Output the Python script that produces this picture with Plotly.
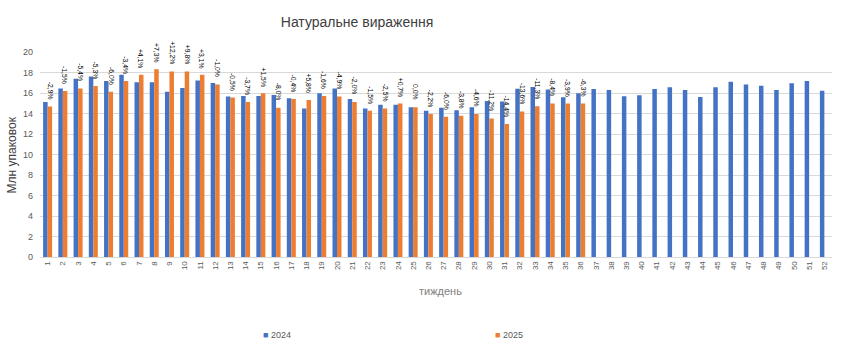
import plotly.graph_objects as go

weeks = [str(i) for i in range(1, 53)]

values_2024 = [15.13, 16.45, 17.39, 17.61, 17.16, 17.77, 17.06, 17.06, 16.13, 16.48,
               17.23, 16.97, 15.65, 15.71, 15.71, 15.81, 15.48, 14.48, 15.97, 16.45,
               15.42, 14.48, 14.85, 14.86, 14.61, 14.26, 14.55, 14.32, 14.61, 15.23,
               15.16, 16.42, 16.58, 16.35, 15.58, 15.97, 16.39, 16.29, 15.68, 15.77,
               16.39, 16.55, 16.29, 15.61, 16.55, 17.10, 16.84, 16.71, 16.29, 16.94,
               17.16, 16.23]

values_2025 = [14.68, 16.19, 16.45, 16.68, 16.13, 17.16, 17.77, 18.32, 18.10, 18.10,
               17.77, 16.84, 15.55, 15.13, 15.97, 14.55, 15.42, 15.32, 15.71, 15.65,
               15.13, 14.26, 14.48, 14.97, 14.61, 13.94, 13.68, 13.77, 13.94, 13.52,
               12.97, 14.19, 14.71, 14.97, 14.97, 14.97]

change_labels = ["-2,9%", "-1,5%", "-5,4%", "-5,3%", "-6,0%", "-3,4%", "+4,1%", "+7,3%",
                 "+12,2%", "+9,8%", "+3,1%", "-1,0%", "-0,5%", "-3,7%", "+1,5%", "-8,0%",
                 "-0,4%", "+5,8%", "-1,6%", "-4,9%", "-2,0%", "-1,5%", "-2,5%", "+0,7%",
                 "0,0%", "-2,2%", "-6,0%", "-3,8%", "-4,6%", "-11,2%", "-14,4%", "-13,6%",
                 "-11,3%", "-8,4%", "-3,9%", "-6,3%"]

series_names = ["2024", "2025"]
colors = ["#4472C4", "#ED7D31"]

FONT = "Liberation Sans"
LABEL_SIZE = 6.8
BARGAP = 0.41
PLOT_W = 850 - 40 - 18
CAT_PX = PLOT_W / len(weeks)
ORANGE_SHIFT = (1 - BARGAP) / 4 * CAT_PX  # centre of the second bar in a group
LABEL_GAP = 7  # px between bar top and the (rotated) label

# approximate advance widths (em) of Liberation Sans glyphs, to place rotated labels
_EM = {"+": 0.584, "-": 0.333, ",": 0.278, "%": 0.889}


def text_len(s, size):
    return sum(_EM.get(c, 0.556) for c in s) * size


fig = go.Figure()
fig.add_trace(go.Bar(x=weeks, y=values_2024, name=series_names[0],
                     marker=dict(color=colors[0], line=dict(width=0)),
                     showlegend=False))
fig.add_trace(go.Bar(x=weeks[:len(values_2025)], y=values_2025, name=series_names[1],
                     marker=dict(color=colors[1], line=dict(width=0)),
                     showlegend=False))

# on a category axis a numeric annotation x is the category index
label_annotations = [
    dict(text=lab, x=idx, y=val, xref="x", yref="y", xshift=ORANGE_SHIFT,
         yshift=LABEL_GAP + text_len(lab, LABEL_SIZE) / 2,
         textangle=90, showarrow=False, xanchor="center", yanchor="middle",
         borderpad=0, font=dict(size=LABEL_SIZE, color="#000000", family=FONT))
    for idx, (val, lab) in enumerate(zip(values_2025, change_labels))
]

fig.update_layout(
    width=850, height=349,
    margin=dict(l=40, r=18, t=52, b=92),
    paper_bgcolor="white", plot_bgcolor="white",
    barmode="group", bargap=BARGAP, bargroupgap=0,
    font=dict(family=FONT, color="#595959"),
    title=dict(text="Натуральне вираження", x=357/850, xanchor="center",
               xref="container", y=1 - 22/349, yanchor="middle", yref="container",
               font=dict(size=14, color="#404040", family=FONT)),
    xaxis=dict(type="category", tickangle=-90, tickfont=dict(size=8, color="#595959"),
               showline=True, linecolor="#d9d9d9", linewidth=1, ticks="",
               showgrid=False, range=[-0.5, 51.5]),
    yaxis=dict(range=[0, 20], dtick=2, gridcolor="#d9d9d9", gridwidth=1,
               zeroline=False, showline=False, ticks="",
               tickfont=dict(size=9, color="#595959"), ticklabelstandoff=6),
    annotations=label_annotations + [
        dict(text="Млн упаковок", xref="paper", yref="paper",
             x=(12 - 40) / PLOT_W, y=(256.5 - 155) / 204.8, textangle=-90,
             showarrow=False, xanchor="center", yanchor="middle",
             font=dict(size=12, color="#404040", family=FONT)),
        dict(text="тиждень", xref="paper", yref="paper",
             x=(440 - 40) / PLOT_W, y=(256.5 - 290) / 204.8,
             showarrow=False, xanchor="center", yanchor="middle",
             font=dict(size=11, color="#7f7f7f", family=FONT)),
        dict(text="<span style='color:%s'>■</span> %s" % (colors[0], series_names[0]),
             xref="paper", yref="paper",
             x=(261 - 40) / PLOT_W, y=(256.5 - 334) / 204.8,
             showarrow=False, xanchor="left", yanchor="middle",
             font=dict(size=9, color="#595959", family=FONT)),
        dict(text="<span style='color:%s'>■</span> %s" % (colors[1], series_names[1]),
             xref="paper", yref="paper",
             x=(493 - 40) / PLOT_W, y=(256.5 - 334) / 204.8,
             showarrow=False, xanchor="left", yanchor="middle",
             font=dict(size=9, color="#595959", family=FONT)),
    ],
)

fig.write_html("out.html")
